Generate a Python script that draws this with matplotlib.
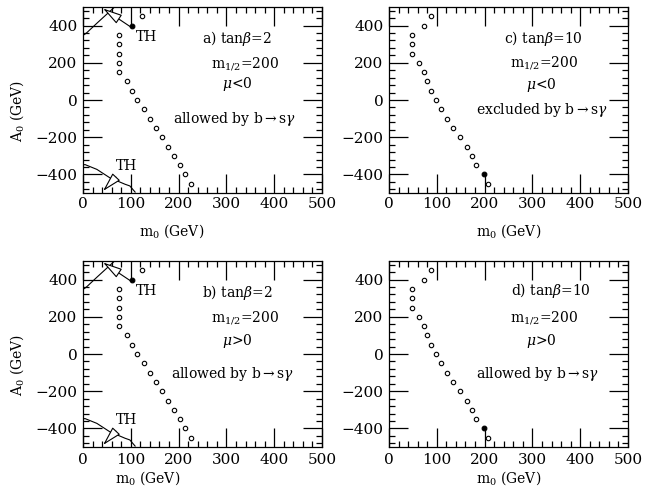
import matplotlib
matplotlib.use("Agg")
import matplotlib.pyplot as plt
from matplotlib.ticker import MultipleLocator

plt.rcParams['font.family'] = ['DejaVu Serif']
plt.rcParams['mathtext.fontset'] = 'dejavuserif'

# ---- data ----
m0_tb2 = [123, 75, 75, 75, 75, 75, 92, 103, 112, 127, 140, 152, 165, 177, 190, 202, 214, 226]
A0_tb2 = [450, 350, 300, 250, 200, 150, 100, 50, 0, -50, -100, -150, -200, -250, -300, -350, -400, -450]
m0_tb2_fill = [102]
A0_tb2_fill = [400]

m0_tb10 = [87, 73, 48, 48, 48, 63, 73, 79, 88, 98, 108, 122, 133, 148, 163, 173, 181, 208]
A0_tb10 = [450, 400, 350, 300, 250, 200, 150, 100, 50, 0, -50, -100, -150, -200, -250, -300, -350, -450]
m0_tb10_fill = [198]
A0_tb10_fill = [-400]

th_top_m0 = [3, 8, 30, 50, 62, 66]
th_top_A0 = [352, 362, 415, 462, 490, 500]
th_bot_m0 = [0, 4, 29, 56, 88, 98, 109]
th_bot_A0 = [-350, -347, -373, -418, -453, -462, -495]

panel_titles = [r"a) tan$\beta$=2", r"b) tan$\beta$=2", r"c) tan$\beta$=10", r"d) tan$\beta$=10"]
mu_labels = [r"$\mu$<0", r"$\mu$>0", r"$\mu$<0", r"$\mu$>0"]
bsg_labels = [r"allowed by b$\rightarrow$s$\gamma$", r"allowed by b$\rightarrow$s$\gamma$",
              r"excluded by b$\rightarrow$s$\gamma$", r"allowed by b$\rightarrow$s$\gamma$"]
m12_label = r"m$_{1/2}$=200"
x_ticks = [0, 100, 200, 300, 400, 500]
y_ticks = [-400, -200, 0, 200, 400]

fig = plt.figure(figsize=(6.6, 4.96), dpi=100)

W, H = 660.0, 496.0
boxes = {
    'a': (83, 7, 239, 186),
    'c': (389, 7, 239, 186),
    'b': (83, 261, 239, 186),
    'd': (389, 261, 239, 186),
}

# text positions (data coords) per panel: title, m12, mu, bsg
txtpos = {
    'a': [(248, 331), (268, 197), (290, 85), (188, -101)],
    'b': [(248, 328), (268, 194), (290, 70), (184, -108)],
    'c': [(240, 331), (253, 203), (287, 80), (182, -53)],
    'd': [(256, 339), (253, 194), (287, 70), (182, -108)],
}
order = ['a', 'b', 'c', 'd']
FS = 10

for i, key in enumerate(order):
    l, t, w, h = boxes[key]
    top_row = key in ('a', 'c')
    ax = fig.add_axes([l / W, 1 - (t + h) / H, w / W, h / H])
    ax.set_xlim(0, 500)
    ax.set_ylim(-500, 500)
    ax.set_xticks(x_ticks)
    ax.set_yticks(y_ticks)
    ax.xaxis.set_minor_locator(MultipleLocator(20))
    ax.yaxis.set_minor_locator(MultipleLocator(40))
    ax.tick_params(which='both', direction='in', top=True, right=True, width=0.9, labelsize=11)
    ax.tick_params(which='major', length=13.5)
    ax.tick_params(which='minor', length=4.5)
    ax.tick_params(axis='x', which='major', pad=3 if top_row else 4.5)
    ax.tick_params(axis='y', which='major', pad=4)
    for s in ax.spines.values():
        s.set_linewidth(0.9)

    if key in ('a', 'b'):
        xs, ys, fx, fy = m0_tb2, A0_tb2, m0_tb2_fill, A0_tb2_fill
    else:
        xs, ys, fx, fy = m0_tb10, A0_tb10, m0_tb10_fill, A0_tb10_fill
    ax.plot(xs, ys, 'o', ms=3.2, mfc='white', mec='black', mew=0.8, ls='none', clip_on=False)
    ax.plot(fx, fy, 'o', ms=3.4, mfc='black', mec='black', mew=0.8, ls='none')

    if key in ('a', 'b'):
        ax.plot(th_top_m0, th_top_A0, color='black', lw=0.8)
        ax.plot(th_bot_m0, th_bot_A0, color='black', lw=0.8)
        ap = dict(arrowstyle='-|>,head_length=1.2,head_width=0.32', fc='white', ec='black',
                  lw=0.8, mutation_scale=10, shrinkA=1, shrinkB=0)
        ax.annotate("TH", xy=(42, 492), xytext=(110, 337), fontsize=FS,
                    ha='left', va='center', arrowprops=ap)
        ax.annotate("TH", xy=(42, -489), xytext=(68, -357), fontsize=FS,
                    ha='left', va='center', arrowprops=ap)
        ax.set_ylabel(r"A$_0$ (GeV)", fontsize=10)
        ax.yaxis.set_label_coords(-0.24, 0.44)
        xlabel_x = 0.37 if key == 'a' else 0.27
    else:
        xlabel_x = 0.5

    ax.set_xlabel(r"m$_0$ (GeV)", fontsize=10)
    ax.xaxis.set_label_coords(xlabel_x, -0.155 if top_row else -0.12)

    tp = txtpos[key]
    ax.text(tp[0][0], tp[0][1], panel_titles[i], fontsize=FS, ha='left', va='center')
    ax.text(tp[1][0], tp[1][1], m12_label, fontsize=FS, ha='left', va='center')
    ax.text(tp[2][0], tp[2][1], mu_labels[i], fontsize=FS, ha='left', va='center')
    ax.text(tp[3][0], tp[3][1], bsg_labels[i], fontsize=FS, ha='left', va='center')

fig.savefig("out.png", dpi=100)
